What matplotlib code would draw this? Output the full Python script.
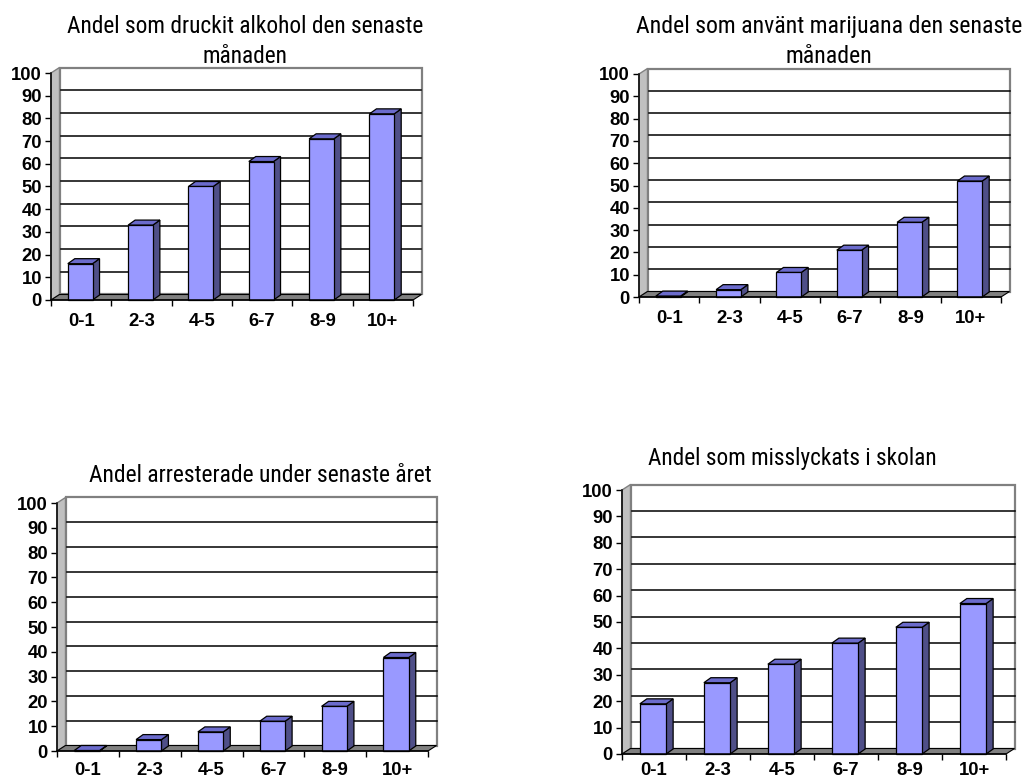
import matplotlib
matplotlib.use("Agg")
import matplotlib.pyplot as plt
from matplotlib.patches import Polygon, Rectangle
from matplotlib import font_manager
from matplotlib.font_manager import FontProperties

# Categories and shares (%) for each panel
categories = ["0-1", "2-3", "4-5", "6-7", "8-9", "10+"]
alkohol = [16, 33, 50, 61, 71, 82]
marijuana = [0.4, 3.3, 11, 21, 33.5, 52]
arresterade = [0.2, 4.6, 7.7, 12, 18, 37.7]
skolan = [19, 27, 34, 42, 48, 57]
yticks = list(range(0, 101, 10))

titles = [
    "Andel som druckit alkohol den senaste\nmånaden",
    "Andel som använt marijuana den senaste\nmånaden",
    "Andel arresterade under senaste året",
    "Andel som misslyckats i skolan",
]

W, H = 1026, 782
fig = plt.figure(figsize=(W / 100, H / 100), dpi=100)


def narrow_font():
    """Pick the narrowest regular sans-serif face available for the titles."""
    entries = font_manager.fontManager.ttflist
    files = [e.fname for e in entries]
    prefs = ["notosans-extracondensed.ttf", "notosans-extracondensedregular",
             "opensans-extracondensed", "liberationsansnarrow-regular",
             "robotocondensed-regular", "notosans-condensed.ttf",
             "notosans-condensedregular", "opensans_condensed-regular",
             "opensans-condensed.ttf", "opensans-condensedregular",
             "dejavusanscondensed.ttf"]
    for p in prefs:
        for f in files:
            if f.lower().endswith(p) or p in f.lower().split("/")[-1]:
                return FontProperties(fname=f)
    for f in files:
        n = f.lower().split("/")[-1]
        if ("condensed" in n or "narrow" in n) and not any(
                k in n for k in ("bold", "italic", "light", "semi", "medium",
                                 "black", "thin", "mono", "heavy")):
            return FontProperties(fname=f)
    return FontProperties(family="DejaVu Sans")


title_fp = narrow_font()
label_font = "Liberation Sans"

FRONT = "#9999ff"
SIDE = "#4f4f88"
TOP = "#6b6bcc"
FLOOR = "#808080"
WALL = "#c0c0c0"

# (x_left, x_right, y_zero, y_hundred) of the front axes in pixels,
# title centre / first baseline, width of the first title line,
# and the gap between the category axis and its labels
panels = [
    (alkohol, titles[0], (51, 413, 300, 73), (245, 33), 357, 9.5),
    (marijuana, titles[1], (639, 1001, 297, 74), (829, 33), 387, 9.5),
    (arresterade, titles[2], (57, 428, 751, 503), (260, 482), 344, 8.0),
    (skolan, titles[3], (622, 1006, 754, 490), (792, 465), 289, 6.0),
]

WDX, WDY = 8.5, 5.5   # wall depth (px)
BDX, BDY = 7.0, 5.0   # bar depth (px)
BAR_W = 0.41

renderer = fig.canvas.get_renderer()

for values, title, (x0, x1, y0, y100), (tx, ty), tw, xpad in panels:
    ax = fig.add_axes([x0 / W, 1 - y0 / H, (x1 - x0) / W, (y0 - y100) / H])
    ax.set_xlim(0, 6)
    ax.set_ylim(0, 100)
    ax.patch.set_visible(False)
    sx = (x1 - x0) / 6.0      # px per category
    sy = (y0 - y100) / 100.0  # px per percent
    wdx, wdy = WDX / sx, WDY / sy
    bdx, bdy = BDX / sx, BDY / sy

    # back wall
    ax.add_patch(Rectangle((wdx, wdy), 6, 100, facecolor="white",
                           edgecolor="#808080", lw=1.6, zorder=1, clip_on=False))
    for v in yticks[1:-1]:
        ax.plot([wdx, 6 + wdx], [v + wdy, v + wdy], color="black", lw=1.1,
                zorder=2, clip_on=False)
    # left side wall
    ax.add_patch(Polygon([(0, 0), (wdx, wdy), (wdx, 100 + wdy), (0, 100)],
                         closed=True, facecolor=WALL, edgecolor="#808080",
                         lw=1.0, zorder=2, clip_on=False))
    # floor
    ax.add_patch(Polygon([(0, 0), (6, 0), (6 + wdx, wdy), (wdx, wdy)],
                         closed=True, facecolor=FLOOR, edgecolor="black",
                         lw=0.8, zorder=3, clip_on=False))

    # bars
    for i, v in enumerate(values):
        xl = i + 0.5 - BAR_W / 2 - 1.0 / sx
        xr = xl + BAR_W
        ax.add_patch(Polygon([(xr, 0), (xr + bdx, bdy), (xr + bdx, v + bdy), (xr, v)],
                             closed=True, facecolor=SIDE, edgecolor="black",
                             lw=0.9, zorder=4, clip_on=False))
        ax.add_patch(Polygon([(xl, v), (xr, v), (xr + bdx, v + bdy), (xl + bdx, v + bdy)],
                             closed=True, facecolor=TOP, edgecolor="black",
                             lw=0.9, zorder=4, clip_on=False))
        ax.add_patch(Rectangle((xl, 0), BAR_W, v, facecolor=FRONT,
                               edgecolor="black", lw=0.9, zorder=5, clip_on=False))

    for s in ("top", "right"):
        ax.spines[s].set_visible(False)
    for s in ("left", "bottom"):
        ax.spines[s].set_color("black")
        ax.spines[s].set_linewidth(1.1)
        ax.spines[s].set_zorder(6)

    ax.set_yticks(yticks)
    ax.set_yticklabels([str(v) for v in yticks], fontfamily=label_font,
                       fontweight="bold", fontsize=13.3)
    ax.tick_params(axis="y", length=4, width=1, pad=2.5, direction="out")

    ax.set_xticks([i + 0.5 for i in range(6)])
    ax.set_xticklabels(categories, fontfamily=label_font, fontweight="bold",
                       fontsize=13.3)
    ax.set_xticks(range(7), minor=True)
    ax.tick_params(axis="x", which="major", length=0, pad=xpad)
    ax.tick_params(axis="x", which="minor", length=4.5, width=1, direction="out")

    # title, sized so its first line spans the intended width
    lines = title.split("\n")
    t1 = fig.text(tx / W, 1 - ty / H, lines[0], ha="center", va="baseline",
                  fontproperties=title_fp.copy(), fontsize=17.5)
    w = t1.get_window_extent(renderer).width
    size = min(17.5 * tw / w, 18.5)
    t1.set_fontsize(size)
    if len(lines) > 1:
        fig.text(tx / W, 1 - (ty + 30) / H, lines[1], ha="center",
                 va="baseline", fontproperties=title_fp.copy(), fontsize=size)

fig.savefig("out.png", dpi=100, facecolor="white")
